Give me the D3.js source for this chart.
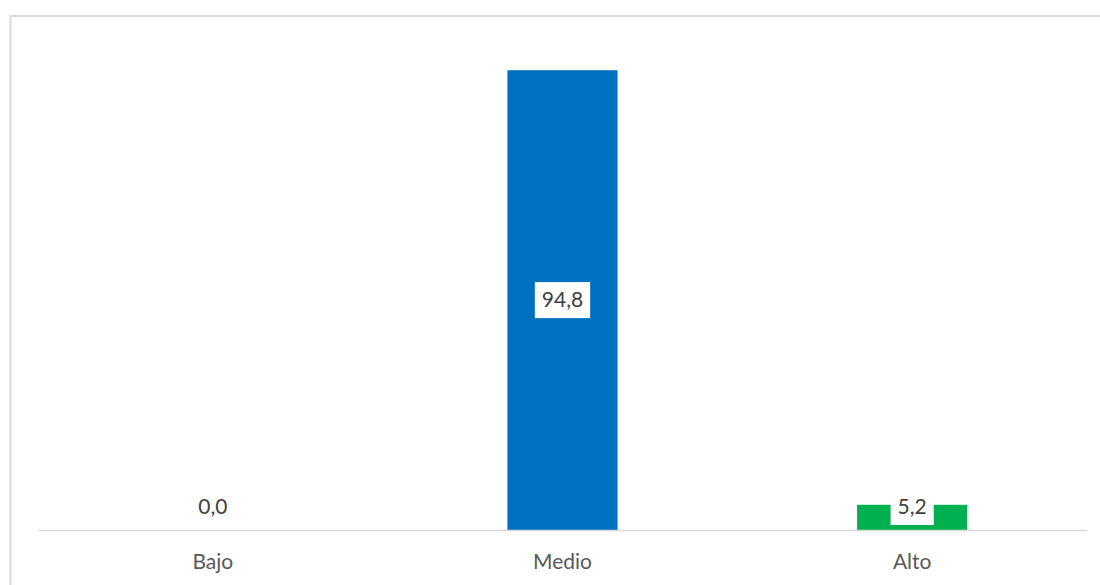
<!DOCTYPE html>
<html>
<head>
<meta charset="utf-8">
<script src="https://cdn.jsdelivr.net/npm/d3@7"></script>
<style>
  body { margin: 0; background: #fff; }
  text { font-family: Lato, "Open Sans", sans-serif; }
</style>
</head>
<body>
<svg width="1100" height="585"></svg>
<script>
const categories = ['Bajo', 'Medio', 'Alto'];
const values = [0.0, 94.8, 5.2];
const colors = ['#0070c0', '#0070c0', '#00b050'];
const labels = values.map(v => v.toFixed(1).replace('.', ','));

const svg = d3.select('svg');

// chart frame (only top and left edges show)
svg.append('rect')
  .attr('x', 10.5)
  .attr('y', 16)
  .attr('width', 1200)
  .attr('height', 700)
  .attr('fill', 'none')
  .attr('stroke', '#d9d9d9')
  .attr('stroke-width', 2);

const x = d3.scaleBand()
  .domain(categories)
  .range([38, 1087])
  .paddingInner(0.685)
  .paddingOuter(0.3425);

const y = d3.scaleLinear()
  .domain([0, 100])
  .range([530, 45]);

svg.append('g')
  .selectAll('rect')
  .data(values)
  .enter()
  .append('rect')
  .attr('x', (d, i) => x(categories[i]))
  .attr('y', d => y(d))
  .attr('width', x.bandwidth())
  .attr('height', d => y(0) - y(d))
  .attr('fill', (d, i) => colors[i]);

// baseline axis
const xAxis = svg.append('g')
  .attr('transform', `translate(0,${y(0)})`)
  .call(d3.axisBottom(x).tickSize(0).tickPadding(24));
xAxis.select('.domain').attr('stroke', '#d9d9d9').attr('stroke-width', 1.5);
xAxis.selectAll('text')
  .attr('font-family', 'Lato, "Open Sans", sans-serif')
  .attr('font-size', 21)
  .attr('fill', '#595959');

// data labels with white boxes, pushed up when the bar is too short
const boxH = 36;
const lab = svg.append('g')
  .selectAll('g')
  .data(values)
  .enter()
  .append('g')
  .attr('transform', (d, i) => {
    const cx = x(categories[i]) + x.bandwidth() / 2;
    const cy = Math.min((y(d) + y(0)) / 2, y(0) - 7 - boxH / 2 + 2);
    return `translate(${cx},${cy})`;
  });

lab.append('text')
  .attr('text-anchor', 'middle')
  .attr('dy', '0.35em')
  .attr('font-size', 21)
  .attr('fill', '#404040')
  .text((d, i) => labels[i])
  .each(function () {
    const bb = this.getBBox();
    d3.select(this.parentNode).insert('rect', 'text')
      .attr('x', -bb.width / 2 - 7)
      .attr('y', -boxH / 2)
      .attr('width', bb.width + 14)
      .attr('height', boxH)
      .attr('fill', '#fff');
  });
</script>
</body>
</html>
